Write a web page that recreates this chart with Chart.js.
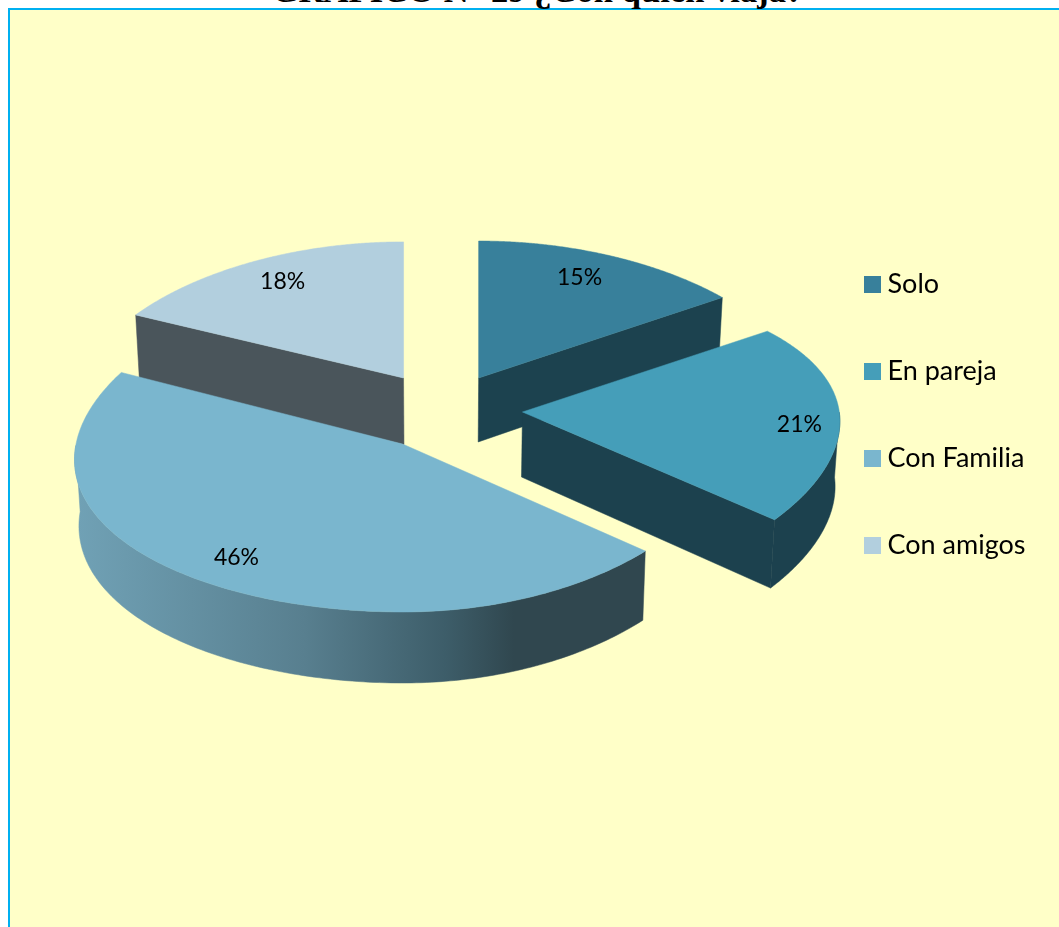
<!DOCTYPE html>
<html lang="es">
<head>
<meta charset="utf-8">
<title>GRÁFICO N° 29</title>
<script src="https://cdn.jsdelivr.net/npm/chart.js@4/dist/chart.umd.min.js"></script>
<style>
html,body{margin:0;padding:0;width:1059px;height:927px;overflow:hidden;background:#fff}
#box{position:absolute;left:8px;top:8px;width:1100px;height:1000px;background:#ffffc8;border:2px solid #00b0f0;box-sizing:border-box}
#ttl{position:absolute;left:0;top:-30px;width:1075px;text-align:center;font:bold 34.6px/40px "Liberation Serif",serif;color:#000;white-space:nowrap}
canvas{position:absolute;left:0;top:0}
</style>
</head>
<body>
<div id="box"></div>
<div id="ttl">GRÁFICO N° 29 ¿Con quién viaja?</div>
<canvas id="c" width="1059" height="927"></canvas>
<script>
const categories = ['Solo', 'En pareja', 'Con Familia', 'Con amigos'];
const values = [15, 21, 46, 18];
const topColors = ['#38809b', '#459eb9', '#7ab6ce', '#b2cfde'];
const explode = [84, 82, 71, 69];

// 3D look of each slice (perspective of the tilted disc)
const apexNudge = [3.4, -1.3, 2, -4.9];
const depthExtra = [0, 0, 0, 2.5];
const rimShape = [
  {kx: 1.000, a: 0.100, b: 0.000, ky: 0.428, p: 0.000},
  {kx: 0.990, a: 0.064, b: -0.020, ky: 0.472, p: 0.168},
  {kx: 1.020, a: 0.100, b: -0.030, ar: -0.054, ky: 0.525, p: 0.000},
  {kx: 1.000, a: 0.176, b: 0.000, ky: 0.495, p: 0.164}
];
const paintOrder = [0, 3, 1, 2];
const labelRho = [0.80, 0.87, 0.85, 0.80];
const labelNudge = [[-7, -3], [1, 8], [-9, -7], [0, 0]];
const tilt = 0.5, shiftY = -3;

function apex(i, el) {
  const mid = (el.startAngle + el.endAngle) / 2 + Math.PI / 2;
  const off = el.options.offset;
  return {x: el.x + off * Math.sin(mid),
          y: el.y + shiftY - off * Math.cos(mid) * tilt + apexNudge[i]};
}
function rimPoint(i, el, th, rho) {
  const a = apex(i, el), s = rimShape[i], R = el.outerRadius;
  const X = rho * Math.sin(th), Y = -rho * Math.cos(th);
  const f = (X > 0 && s.ar !== undefined) ? 1 + s.ar * Y : 1 + s.a * Y + s.b * Y * Y;
  return {x: a.x + R * s.kx * X * f,
          y: a.y + R * s.ky * Y / (1 - s.p * Y)};
}
function lower(pt, el, i) {
  return {x: pt.x + (el.x - pt.x) * 0.012, y: pt.y + 64 + depthExtra[i] + (pt.y - 378) * 0.03};
}
function poly(ctx, pts, fill) {
  ctx.beginPath();
  pts.forEach((p, k) => k ? ctx.lineTo(p.x, p.y) : ctx.moveTo(p.x, p.y));
  ctx.closePath();
  ctx.fillStyle = fill; ctx.strokeStyle = fill; ctx.lineWidth = 0.5;
  ctx.fill(); ctx.stroke();
}

const pie3d = {
  id: 'pie3d',
  beforeDatasetDraw(chart, args) {
    const ctx = chart.ctx, arcs = chart.getDatasetMeta(args.index).data;
    const grad = ctx.createLinearGradient(78, 0, 644, 0);
    grad.addColorStop(0, '#70a1b5');
    grad.addColorStop(0.4, '#587f8f');
    grad.addColorStop(0.65, '#3d5d69');
    grad.addColorStop(0.77, '#30474f');
    grad.addColorStop(1, '#30474f');
    const walls = ['#1c424f', '#1c414e', grad, '#4a555b'];
    paintOrder.forEach(i => {
      const el = arcs[i];
      const s = el.startAngle + Math.PI / 2, e = el.endAngle + Math.PI / 2;
      const rim = [], front = [];
      for (let k = 0; k <= 180; k++) {
        const th = s + (e - s) * k / 180, p = rimPoint(i, el, th, 1);
        rim.push(p);
        if (Math.cos(th) <= 0) front.push(p);
      }
      const a = apex(i, el), aLow = lower(a, el, i);
      const first = rim[0], last = rim[rim.length - 1];
      const deg = t => (t * 180 / Math.PI % 360 + 360) % 360;
      if (deg(s) > 180) poly(ctx, [a, first, lower(first, el, i), aLow], walls[i]);
      if (deg(e) > 0 && deg(e) < 180) poly(ctx, [a, last, lower(last, el, i), aLow], walls[i]);
      if (front.length > 1) poly(ctx, front.concat(front.map(p => lower(p, el, i)).reverse()), walls[i]);
      poly(ctx, [a].concat(rim), el.options.backgroundColor);
    });
    ctx.save();
    ctx.font = '23px Lato';
    ctx.fillStyle = '#000';
    ctx.textAlign = 'center';
    ctx.textBaseline = 'middle';
    arcs.forEach((el, i) => {
      const mid = (el.startAngle + el.endAngle) / 2 + Math.PI / 2;
      const p = rimPoint(i, el, mid, labelRho[i]);
      ctx.fillText(values[i] + '%', p.x + labelNudge[i][0], p.y + labelNudge[i][1]);
    });
    ctx.restore();
    return false;
  }
};

function legendSwatch(color) {
  const c = document.createElement('canvas');
  c.width = 17; c.height = 17;
  const g = c.getContext('2d');
  g.fillStyle = color; g.fillRect(0, 0, 17, 17);
  return c;
}

new Chart(document.getElementById('c'), {
  type: 'pie',
  data: {
    labels: categories,
    datasets: [{data: values, backgroundColor: topColors, offset: explode, borderWidth: 0, radius: 320}]
  },
  options: {
    responsive: false,
    animation: false,
    layout: {padding: {left: 71, right: 23.5, top: 0, bottom: 97}},
    plugins: {
      tooltip: {enabled: false},
      legend: {
        position: 'right',
        align: 'center',
        labels: {
          usePointStyle: true, pointStyleWidth: 4, boxHeight: 17, padding: 60, color: '#000',
          font: {family: 'Lato', size: 27},
          generateLabels(chart) {
            return Chart.overrides.pie.plugins.legend.labels.generateLabels(chart).map((it, i) => {
              it.pointStyle = legendSwatch(topColors[i]);
              return it;
            });
          }
        }
      }
    }
  },
  plugins: [pie3d]
});
</script>
</body>
</html>
